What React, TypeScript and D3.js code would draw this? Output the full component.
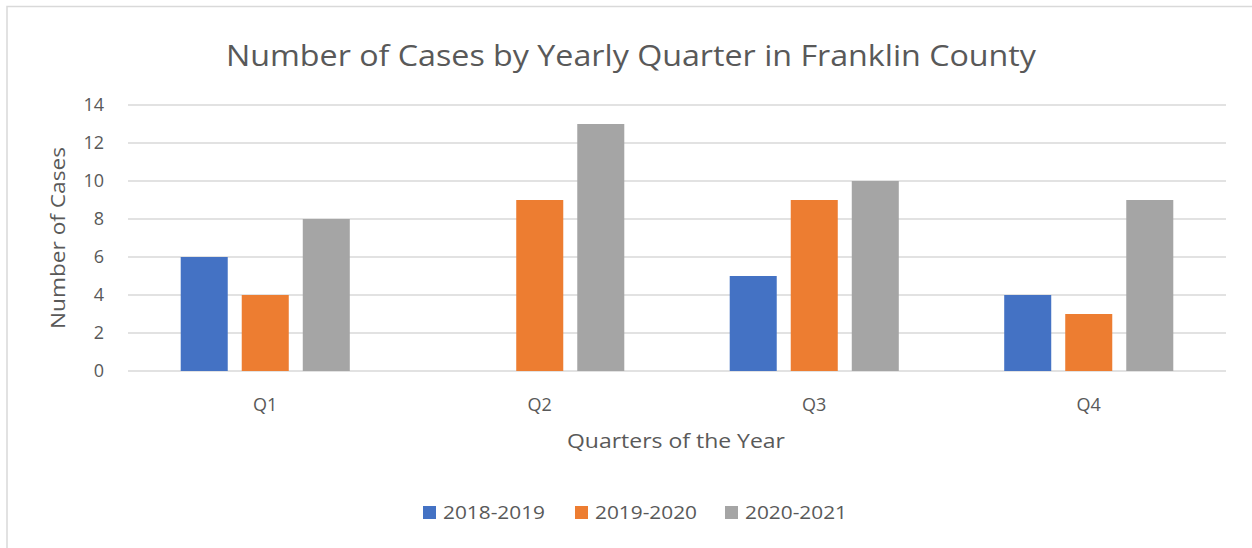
import React from "react";
import * as d3 from "d3";

const categories = ["Q1", "Q2", "Q3", "Q4"];
const seriesNames = ["2018-2019", "2019-2020", "2020-2021"];
const values2018 = [6, 0, 5, 4];
const values2019 = [4, 9, 9, 3];
const values2020 = [8, 13, 10, 9];
const yTicks = [0, 2, 4, 6, 8, 10, 12, 14];
const colors = ["#4472C4", "#ED7D31", "#A5A5A5"];

const W = 1252;
const H = 548;
const FONT = "'Open Sans', sans-serif";
const TEXT = "#595959";

export default function App() {
  const seriesValues = [values2018, values2019, values2020];
  const plotLeft = 128;
  const plotRight = 1226;
  const plotTop = 105;
  const plotBottom = 371;

  const x0 = d3.scaleBand<string>().domain(categories).range([plotLeft, plotRight]).padding(0);
  const cw = x0.bandwidth();
  const groupW = cw * 0.667;
  const x1 = d3
    .scaleBand<string>()
    .domain(seriesNames)
    .range([(cw - groupW) / 2, (cw + groupW) / 2])
    .paddingInner(0.2295)
    .paddingOuter(0.1148);
  const y = d3.scaleLinear().domain([0, 14]).range([plotBottom, plotTop]);

  const legendItems = [{ x: 423 }, { x: 575 }, { x: 725 }];

  return (
    <svg
      width={W}
      height={H}
      style={{ position: "absolute", left: 0, top: 0, background: "#fff" }}
    >
      <rect x={0} y={0} width={W} height={H} fill="#fff" />
      <rect x={7} y={6.5} width={1300} height={600} fill="#fff" stroke="#d9d9d9" strokeWidth={1.5} />
      <text
        x={631}
        y={66}
        textAnchor="middle"
        fontFamily={FONT}
        fontSize={29}
        fill={TEXT}
        textLength={810}
        lengthAdjust="spacingAndGlyphs"
      >
        Number of Cases by Yearly Quarter in Franklin County
      </text>
      {yTicks.map((t) => (
        <g key={t}>
          <line
            x1={plotLeft}
            x2={plotRight}
            y1={y(t)}
            y2={y(t)}
            stroke="#d9d9d9"
            strokeWidth={1.5}
          />
          <text
            x={104}
            y={y(t)}
            dy="0.35em"
            textAnchor="end"
            fontFamily={FONT}
            fontSize={18}
            fill={TEXT}
          >
            {t}
          </text>
        </g>
      ))}
      {categories.map((c, ci) => (
        <g key={c} transform={`translate(${x0(c)},0)`}>
          {seriesNames.map((s, si) => {
            const v = seriesValues[si][ci];
            if (!v) return null;
            return (
              <rect
                key={s}
                x={x1(s)}
                y={y(v)}
                width={x1.bandwidth()}
                height={y(0) - y(v)}
                fill={colors[si]}
              />
            );
          })}
          <text
            x={cw / 2}
            y={405}
            dy="0.35em"
            textAnchor="middle"
            fontFamily={FONT}
            fontSize={18}
            fill={TEXT}
          >
            {c}
          </text>
        </g>
      ))}
      <text
        x={676}
        y={441}
        dy="0.35em"
        textAnchor="middle"
        fontFamily={FONT}
        fontSize={19.5}
        fill={TEXT}
        textLength={218}
        lengthAdjust="spacingAndGlyphs"
      >
        Quarters of the Year
      </text>
      <text
        transform={`translate(58,238) rotate(-90)`}
        dy="0.35em"
        textAnchor="middle"
        fontFamily={FONT}
        fontSize={19.5}
        fill={TEXT}
        textLength={182}
        lengthAdjust="spacingAndGlyphs"
      >
        Number of Cases
      </text>
      {seriesNames.map((s, i) => (
        <g key={s} transform={`translate(${legendItems[i].x},506)`}>
          <rect x={0} y={0} width={13} height={13} fill={colors[i]} />
          <text
            x={20}
            y={7}
            dy="0.35em"
            fontFamily={FONT}
            fontSize={18}
            fill={TEXT}
            textLength={102}
            lengthAdjust="spacingAndGlyphs"
          >
            {s}
          </text>
        </g>
      ))}
    </svg>
  );
}
